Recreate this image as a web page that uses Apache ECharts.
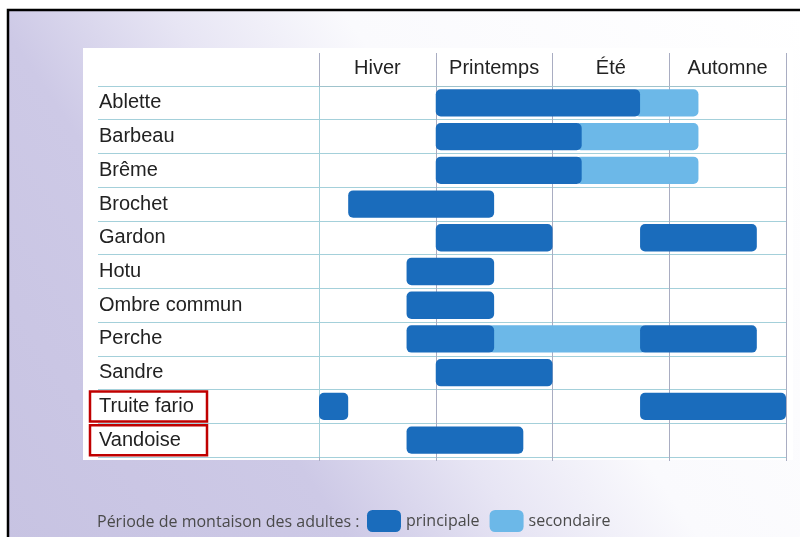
<!DOCTYPE html>
<html>
<head>
<meta charset="utf-8">
<script src="https://cdn.jsdelivr.net/npm/echarts@6/dist/echarts.min.js"></script>
<style>
  html, body { margin: 0; padding: 0; background: #ffffff; }
  #chart { width: 800px; height: 537px; }
</style>
</head>
<body>
<div id="chart"></div>
<script>
// Espèces (une ligne par espèce, de haut en bas)
const species = ['Ablette', 'Barbeau', 'Brême', 'Brochet', 'Gardon', 'Hotu',
  'Ombre commun', 'Perche', 'Sandre', 'Truite fario', 'Vandoise'];

// Saisons affichées en tête de colonnes
const seasons = ['Hiver', 'Printemps', 'Été', 'Automne'];

// Espèces encadrées en rouge
const highlighted = ['Truite fario', 'Vandoise'];

// Périodes de montaison principales : [espèce, début, fin], en mois depuis le début de l'hiver
const mainPeriods = [
  ['Ablette', 3, 8.25],
  ['Barbeau', 3, 6.75],
  ['Brême', 3, 6.75],
  ['Brochet', 0.75, 4.5],
  ['Gardon', 3, 6],
  ['Gardon', 8.25, 11.25],
  ['Hotu', 2.25, 4.5],
  ['Ombre commun', 2.25, 4.5],
  ['Perche', 2.25, 4.5],
  ['Perche', 8.25, 11.25],
  ['Sandre', 3, 6],
  ['Truite fario', 0, 0.75],
  ['Truite fario', 8.25, 12],
  ['Vandoise', 2.25, 5.25]
];

// Périodes de montaison secondaires
const secondaryPeriods = [
  ['Ablette', 8.25, 9.75],
  ['Barbeau', 6.75, 9.75],
  ['Brême', 6.75, 9.75],
  ['Perche', 4.5, 8.25]
];

const DARK = '#1a6cbc';
const LIGHT = '#6cb8e8';
const ROW_LINE = '#a4d0da';
const COL_LINE = '#a9adc2';
const TEXT = '#222222';

const mainRows = mainPeriods.map(([name, start, end]) => [species.indexOf(name), start, end]);
const secondaryRows = secondaryPeriods.map(([name, start, end]) => [species.indexOf(name), start, end]);

// Vrai si une période principale touche la valeur "v" sur la ligne "cat"
function touchesMain(cat, v) {
  return mainRows.some(r => r[0] === cat && (r[1] === v || r[2] === v));
}

// Barre arrondie ; les barres secondaires passent sous les principales voisines
function makeRenderer(underlap) {
  return function (params, api) {
    const cat = api.value(0);
    const start = api.value(1);
    const end = api.value(2);
    const p0 = api.coord([start, cat]);
    const p1 = api.coord([end, cat]);
    const h = api.size([0, 1])[1] * 0.81;
    const padL = underlap && touchesMain(cat, start) ? underlap : 0;
    const padR = underlap && touchesMain(cat, end) ? underlap : 0;
    return {
      type: 'rect',
      shape: {
        x: p0[0] - padL,
        y: p0[1] - h / 2,
        width: p1[0] - p0[0] + padL + padR,
        height: h,
        r: 5
      },
      style: { fill: api.visual('color') }
    };
  };
}

const chart = echarts.init(document.getElementById('chart'), null, { renderer: 'canvas' });

chart.setOption({
  animation: false,
  backgroundColor: '#ffffff',
  graphic: [
    {
      type: 'rect', z: -10, silent: true,
      shape: { x: 8, y: 10, width: 800, height: 540 },
      style: {
        fill: new echarts.graphic.LinearGradient(0, 1, 1, 0, [
          { offset: 0, color: '#c7c3e2' },
          { offset: 0.3, color: '#cdc9e6' },
          { offset: 0.45, color: '#e7e5f4' },
          { offset: 0.6, color: '#fafafd' },
          { offset: 1, color: '#ffffff' }
        ]),
        stroke: '#000000',
        lineWidth: 2.5
      }
    },
    {
      type: 'rect', z: -9, silent: true,
      shape: { x: 83, y: 48, width: 710, height: 412 },
      style: { fill: '#ffffff' }
    }
  ],
  title: {
    text: 'Période de montaison des adultes :',
    left: 92,
    top: 509,
    textStyle: {
      fontFamily: 'Open Sans',
      fontSize: 16,
      fontWeight: 'normal',
      color: '#4a4a4a'
    }
  },
  legend: {
    data: ['principale', 'secondaire'],
    left: 362,
    top: 505,
    icon: 'roundRect',
    itemWidth: 34,
    itemHeight: 22,
    itemGap: 10,
    textStyle: {
      fontFamily: 'Open Sans',
      fontSize: 16,
      color: '#4a4a4a'
    }
  },
  grid: { left: 319, right: 14, top: 86, bottom: 80 },
  xAxis: [
    {
      type: 'value',
      min: 0,
      max: 12,
      interval: 3,
      position: 'bottom',
      axisLabel: { show: false },
      axisLine: { show: true, lineStyle: { color: ROW_LINE, width: 1 } },
      axisTick: { show: true, length: 4, lineStyle: { color: COL_LINE } },
      splitLine: { show: true, lineStyle: { color: COL_LINE, width: 1 } }
    },
    {
      type: 'category',
      data: seasons,
      position: 'top',
      boundaryGap: true,
      axisLine: { show: true, lineStyle: { color: '#9fc3cc', width: 1 } },
      axisTick: { show: true, alignWithLabel: false, interval: 0, length: 33, lineStyle: { color: COL_LINE } },
      axisLabel: {
        interval: 0,
        margin: 8,
        fontFamily: 'Liberation Sans',
        fontSize: 20,
        color: TEXT
      },
      splitLine: { show: false }
    }
  ],
  yAxis: {
    type: 'category',
    data: species,
    inverse: true,
    boundaryGap: true,
    axisLine: { show: true, lineStyle: { color: ROW_LINE, width: 1 } },
    axisTick: { show: true, alignWithLabel: false, interval: 0, length: 221, lineStyle: { color: ROW_LINE } },
    splitLine: { show: true, interval: 0, lineStyle: { color: ROW_LINE, width: 1 } },
    axisLabel: {
      interval: 0,
      margin: 229,
      align: 'left',
      formatter: (v) => highlighted.includes(v) ? '{hl|' + v + '}' : '{n|' + v + '}',
      rich: {
        n: {
          fontFamily: 'Liberation Sans',
          fontSize: 20,
          color: TEXT,
          padding: [0, 0, 0, 9]
        },
        hl: {
          fontFamily: 'Liberation Sans',
          fontSize: 20,
          color: TEXT,
          width: 104,
          padding: [5, 4, 5, 9],
          borderColor: '#c00000',
          borderWidth: 2.5
        }
      }
    }
  },
  series: [
    {
      name: 'secondaire',
      type: 'custom',
      xAxisIndex: 0,
      z: 2,
      itemStyle: { color: LIGHT },
      renderItem: makeRenderer(6),
      encode: { x: [1, 2], y: 0 },
      data: secondaryRows
    },
    {
      name: 'principale',
      type: 'custom',
      xAxisIndex: 0,
      z: 3,
      itemStyle: { color: DARK },
      renderItem: makeRenderer(0),
      encode: { x: [1, 2], y: 0 },
      data: mainRows
    }
  ]
});
</script>
</body>
</html>
